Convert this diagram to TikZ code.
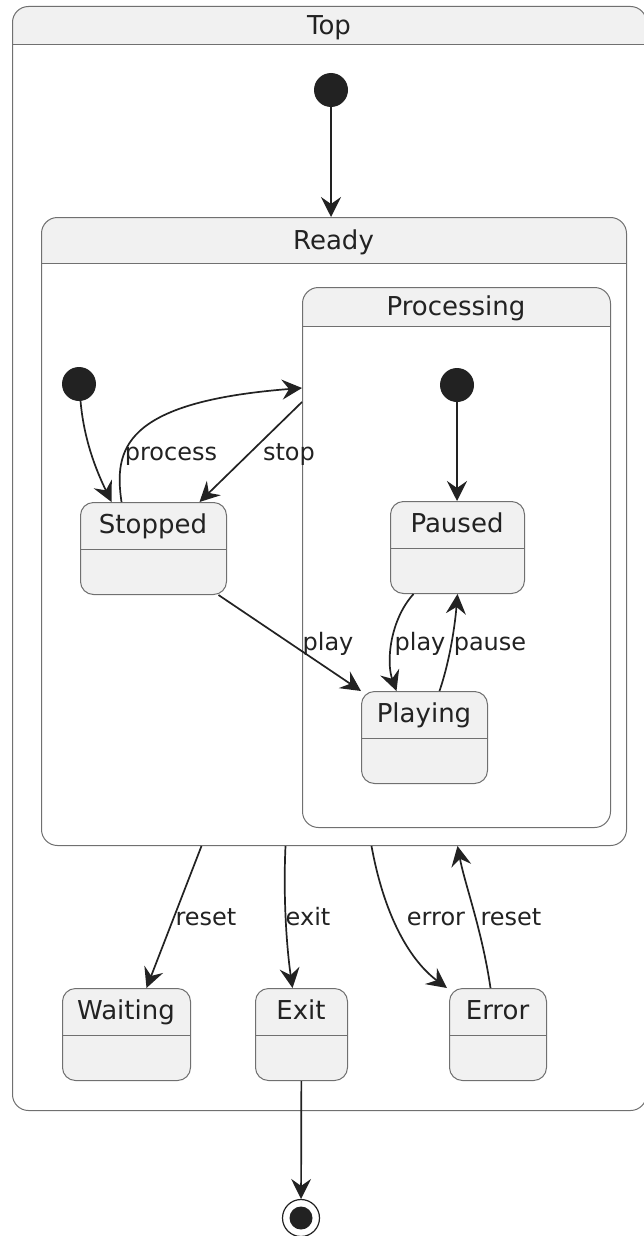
\documentclass[tikz,border=0pt]{standalone}
\usepackage{fontspec}
\setmainfont{DejaVu Sans}
\usetikzlibrary{arrows.meta,calc}
\definecolor{fillc}{HTML}{F1F1F1}
\definecolor{bord}{HTML}{707070}
\definecolor{ink}{HTML}{222222}
\newcommand\mkstate[5]{%
  \node[stbox, minimum width={(#3-#2)*1pt}, anchor=north west] (#1) at (#2,#4) {};
  \draw[bordln] ([yshift=-47pt]#1.north west) -- ([yshift=-47pt]#1.north east);
  \node[txt] (#1-t) at ({(#2+#3)/2},#4+24) {#5};
}
\newcommand\mkcont[7]{%
  \fill[white, rounded corners=16pt] (#2,#3) rectangle (#4,#5);
  \begin{scope}
    \clip (#2,#3) rectangle (#4,#6);
    \fill[fillc, rounded corners=16pt] (#2,#3) rectangle (#4,#5);
  \end{scope}
  \node[contbox, minimum width={(#4-#2)*1pt}, minimum height={(#5-#3)*1pt}, anchor=north west] (#1) at (#2,#3) {};
  \draw[bordln] (#2,#6) -- (#4,#6);
  \node[txt] (#1-t) at ({(#2+#4)/2},{(#3+#6)/2+2}) {#7};
}
\begin{document}
\begin{tikzpicture}[x=1pt,y=-1pt,
  txt/.style={inner sep=0pt, text=ink, font=\fontsize{26}{30}\selectfont, text height=19pt, text depth=5pt},
  lbl/.style={inner sep=0pt, text=ink, font=\fontsize{24}{28}\selectfont, text height=19pt, text depth=5pt},
  bordln/.style={draw=bord, line width=1pt},
  stbox/.style={draw=bord, line width=1pt, fill=fillc, rounded corners=13pt, inner sep=0pt, minimum height=92pt},
  contbox/.style={draw=bord, line width=1pt, rounded corners=16pt, inner sep=0pt},
  initc/.style={circle, fill=ink, minimum size=34pt, inner sep=0pt},
  arr/.style={draw=ink, line width=1.7pt, -{Stealth[length=20pt,width=20pt,inset=7pt]}}
]
\useasboundingbox (0,0) rectangle (643,1236);
% containers
\mkcont{top}{12}{6}{646}{1110}{45}{Top}
\mkcont{ready}{41}{217}{626}{845}{263}{Ready}
\mkcont{proc}{302}{287}{610}{827}{326}{Processing}
% states
\mkstate{stopped}{80}{226}{502}{Stopped}
\mkstate{paused}{390}{524}{501}{Paused}
\mkstate{playing}{361}{487}{691}{Playing}
\mkstate{waiting}{62}{190}{988}{Waiting}
\mkstate{exit}{255}{347}{988}{Exit}
\mkstate{error}{449}{546}{988}{Error}
% initial and final
\node[initc] (i0) at (331,90) {};
\node[initc] (i1) at (79,384) {};
\node[initc] (i2) at (457,385) {};
\node[circle, draw=ink, line width=1.2pt, fill=white, minimum size=37pt, inner sep=0pt] (fin) at (301,1218) {};
\node[circle, fill=ink, minimum size=23pt, inner sep=0pt] (fin-in) at (fin.center) {};
\coordinate (pin) at (302,388);
\coordinate (pout) at (302,402);
% transitions
\draw[arr] (i0) -- (i0 |- ready.north);
\draw[arr] (i2) -- (i2 |- paused.north);
\draw[arr] (i1) .. controls (84,440) and (96,470) .. ([xshift=-42pt]stopped.north);
\draw[arr] ([xshift=-32pt]stopped.north) .. controls (114,450) and (122,402) .. (pin);
\node[lbl] (l-process) at (171,453) {process};
\draw[arr] (pout) -- ([xshift=46pt]stopped.north);
\node[lbl] (l-stop) at (289,453) {stop};
\draw[arr] ([xshift=65pt]stopped.south) -- (playing.north west);
\node[lbl] (l-play1) at (328,643) {play};
\draw[arr] ([xshift=-44pt]paused.south) .. controls (390,620) and (386,662) .. ([xshift=-28pt]playing.north);
\node[lbl] (l-play2) at (420,643) {play};
\draw[arr] ([xshift=15pt]playing.north) .. controls (450,660) and (455,625) .. (paused.south);
\node[lbl] (l-pause) at (490,643) {pause};
\draw[arr] ([xshift=-132.5pt]ready.south) -- ([xshift=20pt]waiting.north);
\node[lbl] (l-reset1) at (206,918) {reset};
\draw[arr] ([xshift=-48.5pt]ready.south) .. controls (283,900) and (287,950) .. ([xshift=-9pt]exit.north);
\node[lbl] (l-exit) at (308,918) {exit};
\draw[arr] ([xshift=37.5pt]ready.south) .. controls (385,920) and (412,962) .. ([xshift=-2pt]error.north west);
\node[lbl] (l-error) at (436,918) {error};
\draw[arr] ([xshift=-7.5pt]error.north) .. controls (482,930) and (465,885) .. ([xshift=123.5pt]ready.south);
\node[lbl] (l-reset2) at (511,918) {reset};
\draw[arr] (exit) -- (fin);
\end{tikzpicture}
\end{document}
